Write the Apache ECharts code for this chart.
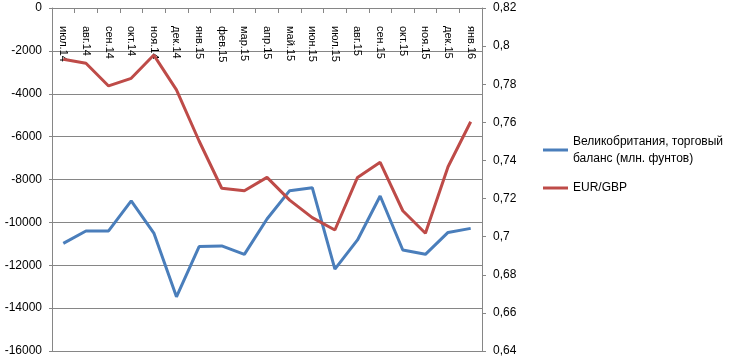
<!DOCTYPE html>
<html>
<head>
<meta charset="utf-8">
<script src="https://cdn.jsdelivr.net/npm/echarts@6/dist/echarts.min.js"></script>
<style>
html,body{margin:0;padding:0;background:#fff;}
#c{width:736px;height:364px;}
</style>
</head>
<body>
<div id="c"></div>
<script>
const categories = ['июл.14','авг.14','сен.14','окт.14','ноя.14','дек.14','янв.15','фев.15','мар.15','апр.15','май.15','июн.15','июл.15','авг.15','сен.15','окт.15','ноя.15','дек.15','янв.16'];
const tradeBalance = [-10980,-10400,-10400,-9000,-10500,-13470,-11130,-11100,-11490,-9840,-8520,-8380,-12180,-10820,-8770,-11290,-11490,-10470,-10280];
const eurGbp = [0.7931,0.7910,0.7791,0.7831,0.7953,0.7770,0.7502,0.7254,0.7241,0.7311,0.7192,0.7100,0.7035,0.7311,0.7390,0.7136,0.7018,0.7367,0.7603];
const leftTicks = {min:-16000, max:0, interval:2000};
const rightTicks = {min:0.64, max:0.82, interval:0.02};
const name1 = 'Великобритания, торговый баланс (млн. фунтов)';
const name2 = 'EUR/GBP';

const FONT = 'Liberation Sans, Arial, sans-serif';
const chart = echarts.init(document.getElementById('c'), null, {renderer:'canvas'});
chart.setOption({
  animation:false,
  backgroundColor:'#fff',
  grid:{left:52, right:254, top:8, bottom:13, containLabel:false},
  legend:[
    {data:[name1], left:543, top:124.5, padding:0, orient:'vertical',
     icon:'rect', itemWidth:25, itemHeight:3,
     formatter:()=> 'Великобритания, торговый\nбаланс (млн. фунтов)',
     textStyle:{fontFamily:FONT, fontSize:12, color:'#000', lineHeight:17, padding:[17,0,0,0]}},
    {data:[name2], left:543, top:179.5, padding:0,
     icon:'rect', itemWidth:25, itemHeight:3,
     textStyle:{fontFamily:FONT, fontSize:12, color:'#000', lineHeight:17}}
  ],
  xAxis:{
    type:'category', data:categories, position:'top', boundaryGap:true,
    axisLine:{onZero:false, lineStyle:{color:'#868686', width:1}},
    axisTick:{show:true, inside:true, length:5, lineStyle:{color:'#868686'}},
    axisLabel:{inside:true, rotate:90, margin:18, interval:0, fontFamily:FONT, fontSize:11, color:'#000'},
    splitLine:{show:false}
  },
  yAxis:[
    {type:'value', position:'left', min:leftTicks.min, max:leftTicks.max, interval:leftTicks.interval,
     axisLine:{show:true, lineStyle:{color:'#868686'}},
     axisTick:{show:true, length:3, lineStyle:{color:'#868686'}},
     axisLabel:{margin:10, fontFamily:FONT, fontSize:12, color:'#000', formatter:v=>String(v)},
     splitLine:{show:true, lineStyle:{color:'#868686', width:1}}},
    {type:'value', position:'right', min:rightTicks.min, max:rightTicks.max, interval:rightTicks.interval,
     axisLine:{show:true, lineStyle:{color:'#868686'}},
     axisTick:{show:true, length:4, lineStyle:{color:'#868686'}},
     axisLabel:{margin:11, fontFamily:FONT, fontSize:12, color:'#000',
       formatter:v=>String(+v.toFixed(2)).replace('.',',')},
     splitLine:{show:false}}
  ],
  series:[
    {name:name1, type:'line', yAxisIndex:0, data:tradeBalance, symbol:'none', smooth:false,
     lineStyle:{color:'#4A7EBB', width:3}, itemStyle:{color:'#4A7EBB'}},
    {name:name2, type:'line', yAxisIndex:1, data:eurGbp, symbol:'none', smooth:false,
     lineStyle:{color:'#BE4B48', width:3}, itemStyle:{color:'#BE4B48'}}
  ]
});
</script>
</body>
</html>
